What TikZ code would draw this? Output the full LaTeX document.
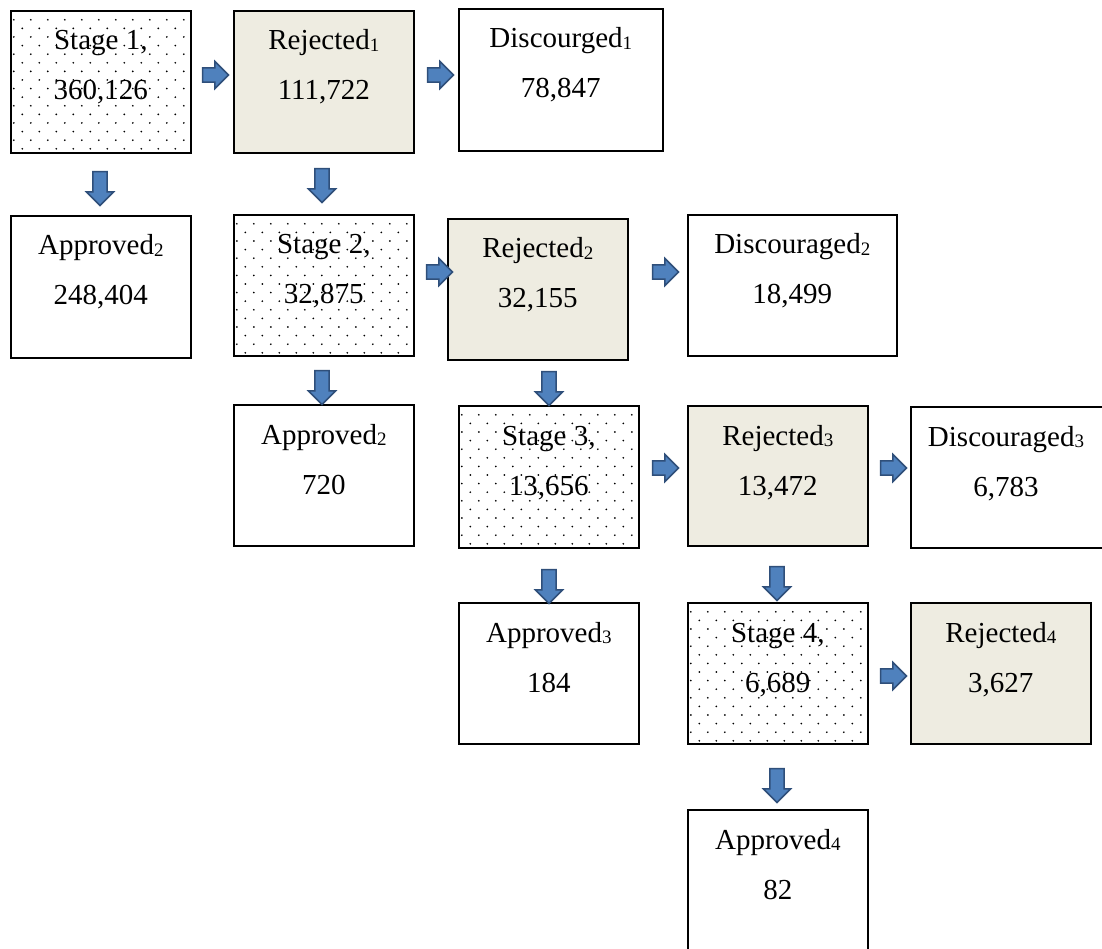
\documentclass[tikz,border=0pt]{standalone}
\usepackage{fontspec}
\setmainfont{Liberation Serif}
\usetikzlibrary{shapes.arrows,calc}
\definecolor{arrfill}{HTML}{4F81BD}
\definecolor{arrdraw}{HTML}{2F4F7A}
\definecolor{beige}{HTML}{EEECE1}
\newcommand\sbs[1]{\raisebox{-1.5pt}{\fontsize{19}{19}\selectfont #1}}
\begin{document}
\begin{tikzpicture}[x=1pt,y=-1pt,
  box/.style={draw=black, line width=1.6pt, inner sep=0pt, anchor=north west, fill=white},
  std/.style={box, minimum width=180pt, minimum height=142pt},
  rej/.style={std, fill=beige},
  dots/.style={path picture={
     \foreach \r in {0,...,15}{\foreach \c in {0,...,10}{
       \fill[black] ($(path picture bounding box.north west)+({3+17*\c+8.5*mod(\r,2)},{9+8.6*\r})$) circle[radius=0.95pt];}}}},
  stg/.style={std, dots},
  txt/.style={anchor=base, inner sep=0pt, font=\fontsize{29}{34}\selectfont},
  rarr/.style={single arrow, draw=arrdraw, fill=arrfill, line width=1.5pt,
     inner xsep=0pt, inner ysep=6.3pt, single arrow head extend=6.5pt, minimum height=26pt},
  darr/.style={rarr, rotate=-90, minimum height=34pt}
]
\useasboundingbox (0,0) rectangle (1102,949);
\clip (0,0) rectangle (1102,949);

% boxes
\node[stg] (s1) at (10,10) {};
\node[rej] (r1) at (233,10) {};
\node[box, minimum width=204pt, minimum height=142pt] (d1) at (458,8) {};
\node[std] (a1) at (10,215) {};
\node[stg, minimum height=141pt] (s2) at (233,214) {};
\node[rej, minimum height=141pt] (r2) at (447,218) {};
\node[box, minimum width=209pt, minimum height=141pt] (d2) at (687,214) {};
\node[std, minimum height=141pt] (a2) at (233,404) {};
\node[stg] (s3) at (458,405) {};
\node[rej, minimum height=140pt] (r3) at (687,405) {};
\node[box, minimum width=200pt, minimum height=141pt] (d3) at (910,406) {};
\node[std, minimum height=141pt] (a3) at (458,602) {};
\node[stg, minimum height=141pt] (s4) at (687,602) {};
\node[rej, minimum height=141pt] (r4) at (910,602) {};
\node[std, minimum height=150pt] (a4) at (687,809) {};

% texts
\node[txt] (s1a) at ($(s1.north)+(0,40)$) {Stage 1,};
\node[txt] (s1b) at ($(s1.north)+(0,90)$) {360,126};
\node[txt] (r1a) at ($(r1.north)+(0,40)$) {Rejected\sbs{1}};
\node[txt] (r1b) at ($(r1.north)+(0,90)$) {111,722};
\node[txt] (d1a) at ($(d1.north)+(0,40)$) {Discourged\sbs{1}};
\node[txt] (d1b) at ($(d1.north)+(0,90)$) {78,847};
\node[txt] (a1a) at ($(a1.north)+(0,40)$) {Approved\sbs{2}};
\node[txt] (a1b) at ($(a1.north)+(0,90)$) {248,404};
\node[txt] (s2a) at ($(s2.north)+(0,40)$) {Stage 2,};
\node[txt] (s2b) at ($(s2.north)+(0,90)$) {32,875};
\node[txt] (r2a) at ($(r2.north)+(0,40)$) {Rejected\sbs{2}};
\node[txt] (r2b) at ($(r2.north)+(0,90)$) {32,155};
\node[txt] (d2a) at ($(d2.north)+(0,40)$) {Discouraged\sbs{2}};
\node[txt] (d2b) at ($(d2.north)+(0,90)$) {18,499};
\node[txt] (a2a) at ($(a2.north)+(0,40)$) {Approved\sbs{2}};
\node[txt] (a2b) at ($(a2.north)+(0,90)$) {720};
\node[txt] (s3a) at ($(s3.north)+(0,40)$) {Stage 3,};
\node[txt] (s3b) at ($(s3.north)+(0,90)$) {13,656};
\node[txt] (r3a) at ($(r3.north)+(0,40)$) {Rejected\sbs{3}};
\node[txt] (r3b) at ($(r3.north)+(0,90)$) {13,472};
\node[txt] (d3a) at (1006,446) {Discouraged\sbs{3}};
\node[txt] (d3b) at (1006,496) {6,783};
\node[txt] (a3a) at ($(a3.north)+(0,40)$) {Approved\sbs{3}};
\node[txt] (a3b) at ($(a3.north)+(0,90)$) {184};
\node[txt] (s4a) at ($(s4.north)+(0,40)$) {Stage 4,};
\node[txt] (s4b) at ($(s4.north)+(0,90)$) {6,689};
\node[txt] (r4a) at ($(r4.north)+(0,40)$) {Rejected\sbs{4}};
\node[txt] (r4b) at ($(r4.north)+(0,90)$) {3,627};
\node[txt] (a4a) at ($(a4.north)+(0,40)$) {Approved\sbs{4}};
\node[txt] (a4b) at ($(a4.north)+(0,90)$) {82};

% block arrows
\node[rarr] (ar1) at (212,75) {};
\node[rarr] (ar2) at (437,75) {};
\node[rarr] (ar3) at (436,272) {};
\node[rarr] (ar4) at (662,272) {};
\node[rarr] (ar5) at (662,468) {};
\node[rarr] (ar6) at (890,468) {};
\node[rarr] (ar7) at (890,676) {};
\node[darr] (ad1) at (100,185) {};
\node[darr] (ad2) at (322,182) {};
\node[darr] (ad3) at (322,384) {};
\node[darr] (ad4) at (549,385) {};
\node[darr] (ad5) at (777,580) {};
\node[darr] (ad6) at (549,583) {};
\node[darr] (ad7) at (777,782) {};
\end{tikzpicture}
\end{document}
